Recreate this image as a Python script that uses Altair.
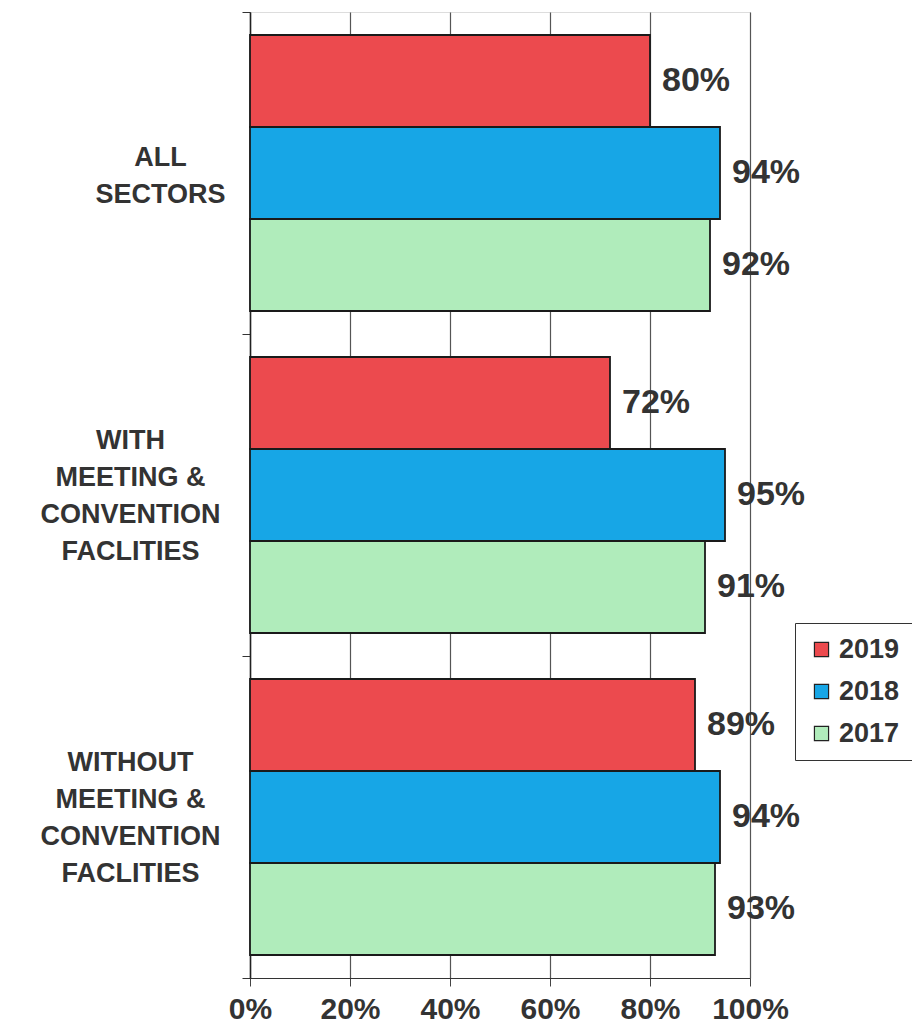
import altair as alt
import pandas as pd

categories = ["ALL|SECTORS",
              "WITH|MEETING &|CONVENTION|FACLITIES",
              "WITHOUT|MEETING &|CONVENTION|FACLITIES"]
years = ["2019", "2018", "2017"]
v2019 = [0.80, 0.72, 0.89]
v2018 = [0.94, 0.95, 0.94]
v2017 = [0.92, 0.91, 0.93]
colors = ["#EC4A4E", "#17A6E6", "#B0ECBB"]
x_ticks = [0, 0.2, 0.4, 0.6, 0.8, 1.0]

rows = []
for yr, vals in zip(years, [v2019, v2018, v2017]):
    for c, v in zip(categories, vals):
        rows.append({"cat": c, "year": yr, "value": v})
df = pd.DataFrame(rows)

FONT = "Liberation Sans"
is_all = "datum.value == 'ALL|SECTORS'"

y_enc = alt.Y("cat:N", sort=categories, title=None,
              scale=alt.Scale(paddingInner=0, paddingOuter=0),
              axis=alt.Axis(labelExpr="split(datum.label, '|')",
                            labelFont=FONT, labelFontSize=27, labelFontWeight="bold",
                            labelColor="#333333", labelAlign="center", labelBaseline="middle",
                            labelLineHeight=37, labelLimit=400,
                            labelPadding={"condition": {"test": is_all, "value": 82}, "value": 112},
                            labelOffset={"condition": {"test": is_all, "value": -16}, "value": -55},
                            tickBand="extent", tickSize=8, tickColor="#333333",
                            domainColor="#222222", domainWidth=1.5, grid=False))
yoff = alt.YOffset("year:N", sort=years,
                   scale=alt.Scale(paddingInner=0, paddingOuter=0.25))
x_enc = alt.X("value:Q", title=None,
              scale=alt.Scale(domain=[0, 1], nice=False),
              axis=alt.Axis(values=x_ticks, format=".0%", labelFont=FONT, labelFontSize=30,
                            labelFontWeight="bold", labelColor="#333333", labelPadding=8,
                            labelOverlap=False, labelFlush=False, labelLimit=200,
                            tickSize=8, tickColor="#444444", domainColor="#333333",
                            grid=True, gridColor="#555555", gridWidth=1.2))

base = alt.Chart(df)

bars = base.mark_bar(stroke="#1a1a1a", strokeWidth=1.8).encode(
    y=y_enc, yOffset=yoff, x=x_enc,
    color=alt.Color("year:N", sort=years,
                    scale=alt.Scale(domain=years, range=colors),
                    legend=alt.Legend(title=None, orient="none", legendX=545, legendY=611,
                                      symbolType="square", symbolSize=200,
                                      symbolStrokeColor="#222222", symbolStrokeWidth=1.2,
                                      labelFont=FONT, labelFontSize=27, labelFontWeight="bold",
                                      labelColor="#333333", rowPadding=14, padding=13,
                                      strokeColor="#333333", fillColor="white",
                                      labelLimit=200)),
)

labels = base.mark_text(align="left", baseline="middle", dx=12, font=FONT,
                        fontSize=34, fontWeight="bold", color="#333333").encode(
    y=alt.Y("cat:N", sort=categories), yOffset=alt.YOffset("year:N", sort=years),
    x=alt.X("value:Q"), text=alt.Text("value:Q", format=".0%"))

chart = (bars + labels).properties(
    width=500, height=966,
    autosize=alt.AutoSizeParams(type="none"),
    padding={"left": 242, "top": 4, "right": 162, "bottom": 47},
).configure_view(stroke="#555555", strokeWidth=1.2).configure(background="white")

chart.save("out.html", embed_options={"renderer": "svg", "actions": False})
